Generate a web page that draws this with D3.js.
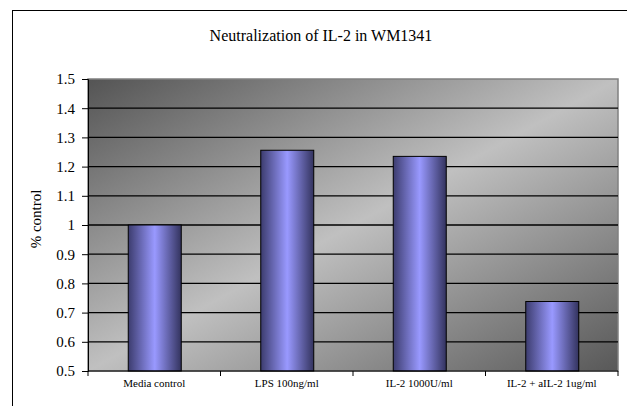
<!DOCTYPE html>
<html><head><meta charset="utf-8">
<script src="https://cdn.jsdelivr.net/npm/d3@7"></script>
<style>body{margin:0;background:#fff}svg{display:block}
svg text{font-family:"Liberation Serif","Times New Roman",Times,"DejaVu Serif",serif !important;fill:#000}</style>
</head><body>
<script>
const categories = ["Media control", "LPS 100ng/ml", "IL-2 1000U/ml", "IL-2 + aIL-2 1ug/ml"];
const values = [1.0, 1.256, 1.235, 0.738];
const yTicks = [0.5, 0.6, 0.7, 0.8, 0.9, 1, 1.1, 1.2, 1.3, 1.4, 1.5];
const titleText = "Neutralization of IL-2 in WM1341";
const yLabel = "% control";

const W = 627, H = 406;
const m = {left: 88, right: 618, top: 79, bottom: 371};
const svg = d3.select("body").append("svg").attr("width", W).attr("height", H);
const defs = svg.append("defs");

const bg = defs.append("linearGradient").attr("id", "bg")
  .attr("x1", 0).attr("y1", 0).attr("x2", 1).attr("y2", 1);
bg.append("stop").attr("offset", 0).attr("stop-color", "#545454");
bg.append("stop").attr("offset", 0.5).attr("stop-color", "#c0c0c0");
bg.append("stop").attr("offset", 1).attr("stop-color", "#585858");

const bar = defs.append("linearGradient").attr("id", "bar")
  .attr("x1", 0).attr("y1", 0).attr("x2", 1).attr("y2", 0);
bar.append("stop").attr("offset", 0).attr("stop-color", "#3c3c6e");
bar.append("stop").attr("offset", 0.5).attr("stop-color", "#9999ff");
bar.append("stop").attr("offset", 1).attr("stop-color", "#33335e");

// outer frame
svg.append("rect").attr("x", 12.5).attr("y", 10.5).attr("width", 700).attr("height", 500)
  .attr("fill", "#fff").attr("stroke", "#000").attr("stroke-width", 1);

const x0 = d3.scaleBand().domain(categories).range([m.left, m.right]);
const y = d3.scaleLinear().domain([0.5, 1.5]).range([m.bottom, m.top]);

// plot area
svg.append("rect").attr("x", m.left).attr("y", m.top)
  .attr("width", m.right - m.left).attr("height", m.bottom - m.top)
  .attr("fill", "url(#bg)").attr("stroke", "#808080").attr("stroke-width", 1.5);

// gridlines
svg.append("g").selectAll("line").data(yTicks.filter(d => d > 0.5 && d < 1.5)).join("line")
  .attr("x1", m.left).attr("x2", m.right)
  .attr("y1", d => y(d)).attr("y2", d => y(d))
  .attr("stroke", "#000").attr("stroke-width", 1.3);

// bars
svg.append("g").selectAll("rect").data(categories).join("rect")
  .attr("x", d => x0(d) + x0.bandwidth()/2 - 26)
  .attr("width", 53)
  .attr("y", (d, i) => y(values[i]))
  .attr("height", (d, i) => y(0.5) - y(values[i]))
  .attr("fill", "url(#bar)").attr("stroke", "#000").attr("stroke-width", 1);

// y axis
const yAxis = svg.append("g").attr("transform", `translate(${m.left},0)`)
  .call(d3.axisLeft(y).tickValues(yTicks).tickFormat(d3.format("")).tickSize(6).tickPadding(7));
yAxis.attr("font-family", null);
yAxis.select(".domain").attr("stroke", "#000");
yAxis.selectAll("text").attr("font-size", 15);

// x axis
const xAxis = svg.append("g").attr("transform", `translate(0,${m.bottom})`)
  .call(d3.axisBottom(x0).tickSize(0).tickPadding(8));
xAxis.attr("font-family", null);
xAxis.select(".domain").remove();
xAxis.append("line").attr("x1", m.left).attr("x2", m.right).attr("y1", 0).attr("y2", 0).attr("stroke", "#000");
xAxis.selectAll(".sep").data(d3.range(categories.length + 1)).join("line")
  .attr("x1", i => m.left + i * x0.step()).attr("x2", i => m.left + i * x0.step())
  .attr("y1", 0).attr("y2", 5).attr("stroke", "#000");
xAxis.selectAll(".tick text").attr("font-size", 11);

// title
svg.append("text").attr("x", 321).attr("y", 41).attr("text-anchor", "middle")
  .attr("font-size", 16).text(titleText);

// y label
svg.append("text").attr("transform", "translate(41,219) rotate(-90)").attr("text-anchor", "middle")
  .attr("font-size", 15).text(yLabel);
</script>
</body></html>
